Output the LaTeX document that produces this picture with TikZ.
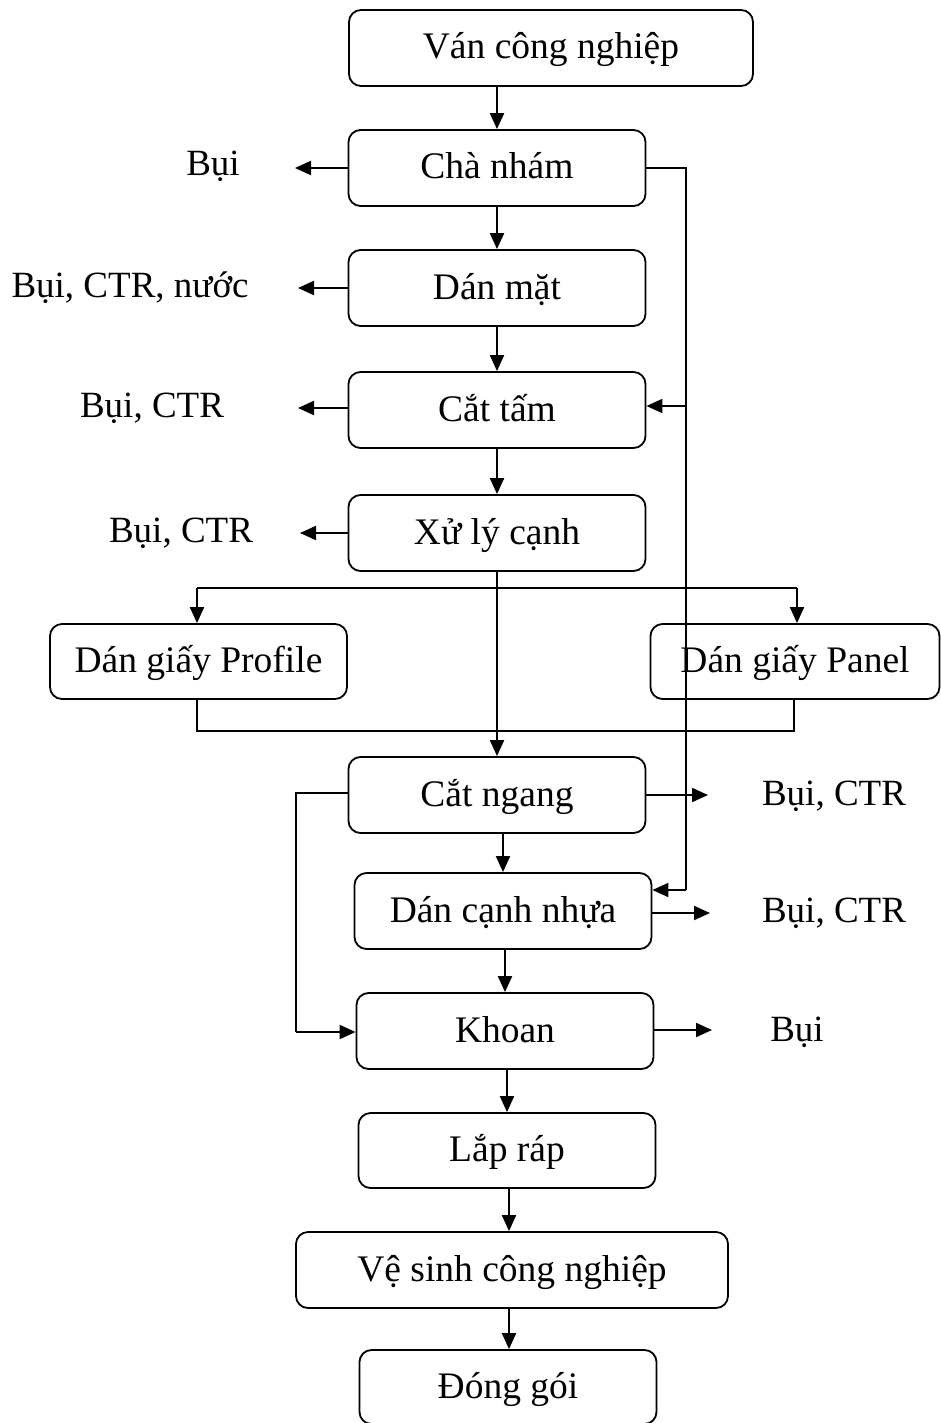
\documentclass[tikz,border=0pt]{standalone}
\usepackage{fontspec}
\setmainfont{Liberation Serif}
\usetikzlibrary{arrows.meta}
\begin{document}
\begin{tikzpicture}[x=1pt,y=-1pt,
  box/.style={draw,line width=1.8pt,rounded corners=12pt,minimum height=76pt,
    inner sep=0pt,text height=28pt,text depth=6pt,align=center,font=\fontsize{37.5}{40}\selectfont},
  lbl/.style={anchor=base,inner sep=0pt,font=\fontsize{37}{40}\selectfont},
  flow/.style={line width=2pt,-{Triangle[length=16pt,width=14pt]}},
  wire/.style={line width=2pt},
  thin/.style={line width=1.6pt}]
\useasboundingbox (0,0) rectangle (940,1423);

% process boxes
\node[box,minimum width=404pt] (van) at (551,48) {Ván công nghiệp};
\node[box,minimum width=297pt] (cha) at (497,168) {Chà nhám};
\node[box,minimum width=297pt] (dan) at (497,288) {Dán mặt};
\node[box,minimum width=297pt] (cat) at (497,410) {Cắt tấm};
\node[box,minimum width=297pt] (xly) at (497,533) {Xử lý cạnh};
\node[box,minimum width=297pt,minimum height=75pt] (pro) at (198.5,661.5) {Dán giấy Profile};
\node[box,minimum width=289pt,minimum height=75pt] (pan) at (795,661.5) {Dán giấy Panel};
\node[box,minimum width=297pt] (cng) at (497,795) {Cắt ngang};
\node[box,minimum width=297pt] (dcn) at (503,911) {Dán cạnh nhựa};
\node[box,minimum width=297pt] (kho) at (505,1031) {Khoan};
\node[box,minimum width=297pt,minimum height=75pt] (lap) at (507,1150.5) {Lắp ráp};
\node[box,minimum width=432pt] (ves) at (512,1270) {Vệ sinh công nghiệp};
\node[box,minimum width=297pt,minimum height=74pt] (don) at (508,1387) {Đóng gói};

% emission labels
\node[lbl] (e1) at (213,176) {Bụi};
\node[lbl] (e2) at (130,297) {Bụi, CTR, nước};
\node[lbl] (e3) at (152,417) {Bụi, CTR};
\node[lbl] (e4) at (181,542) {Bụi, CTR};
\node[lbl] (e5) at (834,805) {Bụi, CTR};
\node[lbl] (e6) at (834,922) {Bụi, CTR};
\node[lbl] (e7) at (797,1041) {Bụi};

% main flow
\draw[flow] (van.south -| cha.north) -- (cha.north);
\draw[flow] (cha) -- (dan);
\draw[flow] (dan) -- (cat);
\draw[flow] (cat) -- (xly);
\draw[flow] (xly.south) -- (cng.north);
\draw[flow] (cng.south -| dcn.north) -- (dcn.north);
\draw[flow] (dcn.south -| kho.north) -- (kho.north);
\draw[flow] (kho.south -| lap.north) -- (lap.north);
\draw[flow] (lap.south -| 509,0) -- (ves.north -| 509,0);
\draw[flow] (ves.south -| 509,0) -- (don.north -| 509,0);

% emissions
\coordinate (o1) at (295,168);
\coordinate (o2) at (298,288);
\coordinate (o3) at (298,408);
\coordinate (o4) at (300,533);
\coordinate (o5) at (708,795);
\coordinate (o6) at (710,913);
\coordinate (o7) at (712,1030);
\draw[flow] (cha.west) -- (o1);
\draw[flow] (cha.west |- o2) -- (o2);
\draw[flow] (cha.west |- o3) -- (o3);
\draw[flow] (cha.west |- o4) -- (o4);
\draw[flow] (cng.east |- o5) -- (o5);
\draw[flow] (dcn.east |- o6) -- (o6);
\draw[flow] (kho.east |- o7) -- (o7);

% branch to the two paper-laminating lines
\coordinate (bl) at (197,588);
\coordinate (br) at (797,588);
\draw[wire] (bl) -- (br);
\draw[flow] (bl) -- (bl |- pro.north);
\draw[flow] (br) -- (br |- pan.north);
\coordinate (jl) at (197,731);
\coordinate (jr) at (794,731);
\draw[wire] (jl |- pro.south) -- (jl) -- (jr) -- (jr |- pan.south);

% return line on the right
\coordinate (r1) at (686,168);
\coordinate (r2) at (686,406);
\coordinate (r3) at (686,890);
\draw[thin] (cha.east) -- (r1) -- (r3);
\draw[flow,line width=1.8pt] (r3) -- (dcn.east |- r3);
\draw[flow,line width=1.8pt] (r2) -- (cat.east |- r2);

% bypass from cross-cutting to drilling
\coordinate (l1) at (296,793);
\coordinate (l2) at (296,1032);
\draw[wire] (cng.west |- l1) -- (l1) -- (l2);
\draw[flow] (l2) -- (kho.west |- l2);
\end{tikzpicture}
\end{document}
